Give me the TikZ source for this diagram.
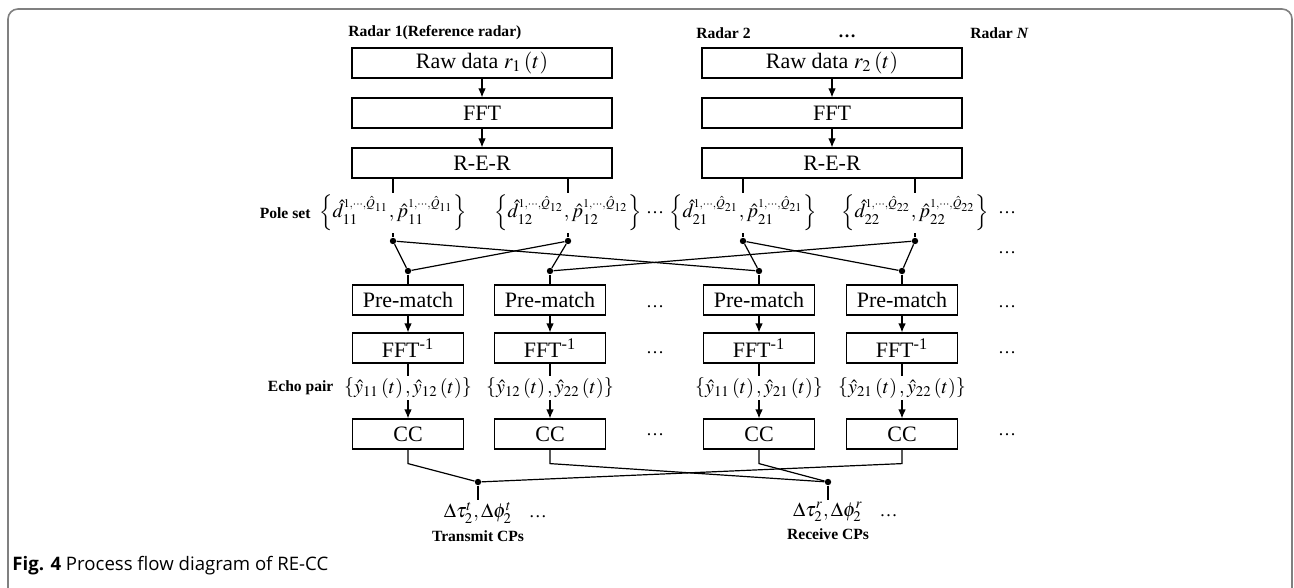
\documentclass[tikz,border=0pt]{standalone}
\usepackage{mathptmx}
\usepackage[no-math]{fontspec}
\setmainfont{Liberation Serif}
\newfontfamily\capfont{Open Sans}
\usetikzlibrary{positioning,arrows.meta}

\begin{document}
\begin{tikzpicture}[x=0.5pt,y=-0.5pt,
	box/.style={draw,line width=0.6pt,minimum height=15pt,inner sep=0pt,font=\fontsize{11}{13}\selectfont},
	widebox/.style={box,minimum width=130pt},
	smallbox/.style={box,minimum width=55.5pt},
	tag/.style={inner sep=1pt,font=\fontsize{7.8}{9}\selectfont\bfseries},
	mlabel/.style={inner sep=1pt,font=\fontsize{10}{12}\selectfont},
	more/.style={inner sep=0pt,font=\fontsize{9}{10}\selectfont},
	dot/.style={circle,fill,inner sep=0pt,minimum size=3.2pt},
	link/.style={line width=0.6pt},
	flow/.style={link,-{Latex[length=4.5pt,width=3.8pt]}}]

	\useasboundingbox (0,0) rectangle (1294,588);
	\draw[gray,line width=0.8pt,rounded corners=5pt] (8,588) -- (8,9) -- (1292,9) -- (1292,588);

	% radar columns
	\node[tag,anchor=west] (lab1) at (346,33) {Radar 1(Reference radar)};
	\node[tag,anchor=west] (lab2) at (694,33) {Radar 2};
	\node[more] (labdots) at (847,36) {\textbf{\dots}};
	\node[tag,anchor=west] (labN) at (968,33) {Radar \textit{N}};

	\foreach \x/\r in {482/1,832/2}{
		\node[widebox] (raw\r) at (\x,63) {Raw data $r_\r\left(t\right)$};
		\node[widebox] (fft\r) at (\x,113) {FFT};
		\node[widebox] (rer\r) at (\x,163) {R-E-R};
		\draw[flow] (raw\r) -- (fft\r);
		\draw[flow] (fft\r) -- (rer\r);
	}

	% pole sets
	\foreach \x/\i/\r in {393/11/1,568/12/1,743/21/2,915/22/2}{
		\node[mlabel] (ps\i) at (\x,213) {$\left\{\hat{d}_{\i}^{\scriptscriptstyle 1,\cdots,\hat{Q}_{\i}},\hat{p}_{\i}^{\scriptscriptstyle 1,\cdots,\hat{Q}_{\i}}\right\}$};
		\node[dot] (u\i) at (\x,241) {};
		\draw[link] (rer\r.south -| ps\i) -- (ps\i.north);
		\draw[link] (ps\i.south) -- (u\i);
	}
	\node[tag,left=2pt of ps11] (poleset) {Pole set};

	% matching branches
	\foreach \x/\k/\a/\b in {408/1/11/12,550/2/12/22,759/3/11/21,902/4/21/22}{
		\node[dot] (l\k) at (\x,271) {};
		\node[smallbox] (pm\k) at (\x,300) {Pre-match};
		\node[smallbox] (inv\k) at (\x,348) {FFT\textsuperscript{-1}};
		\node[mlabel] (ep\k) at (\x,388) {$\left\{\hat{y}_{\a}\left(t\right),\hat{y}_{\b}\left(t\right)\right\}$};
		\node[smallbox] (cc\k) at (\x,434) {CC};
		\draw[link] (l\k) -- (pm\k);
		\draw[flow] (pm\k) -- (inv\k);
		\draw[link] (inv\k) -- (ep\k);
		\draw[flow] (ep\k) -- (cc\k);
	}
	\node[tag,left=3pt of ep1] (echopair) {Echo pair};

	\draw[link] (u11) -- (l1) (u12) -- (l1) (u12) -- (l2) (u22) -- (l2);
	\draw[link] (u11) -- (l3) (u21) -- (l3) (u21) -- (l4) (u22) -- (l4);

	% dots for further radars
	\foreach \x/\y [count=\n] in {655/213,1007/213,1007/253,655/307,1007/307,655/353,1007/353,655/435,1007/435}
		\node[more] (dots\n) at (\x,\y) {\dots};

	% calibration parameters
	\node[dot] (tx) at (478,482) {};
	\node[dot] (rx) at (828,482) {};
	\draw[link] (cc1.south) -- ++(0,14) -- (tx);
	\draw[link] (cc4.south) -- ++(0,14) -- (tx);
	\draw[link] (cc2.south) -- ++(0,14) -- (rx);
	\draw[link] (cc3.south) -- ++(0,14) -- (rx);

	\node[mlabel,anchor=north] (tcp) at (478,500) {$\Delta\tau_2^t,\Delta\phi_2^t$};
	\node[mlabel,anchor=north] (rcp) at (828,500) {$\Delta\tau_2^r,\Delta\phi_2^r$};
	\draw[link] (tx) -- (tcp);
	\draw[link] (rx) -- (rcp);
	\node[more,anchor=base west] (tdots) at ([xshift=7pt]tcp.base east) {\dots};
	\node[more,anchor=base west] (rdots) at ([xshift=7pt]rcp.base east) {\dots};
	\node[tag,below=1pt of tcp] (tname) {Transmit CPs};
	\node[tag,below=1pt of rcp] (rname) {Receive CPs};

	\node[anchor=west,inner sep=0pt,font=\capfont\fontsize{9.3}{11}\selectfont] (caption) at (12,566) {\textbf{Fig. 4} Process flow diagram of RE-CC};

\end{tikzpicture}
\end{document}
